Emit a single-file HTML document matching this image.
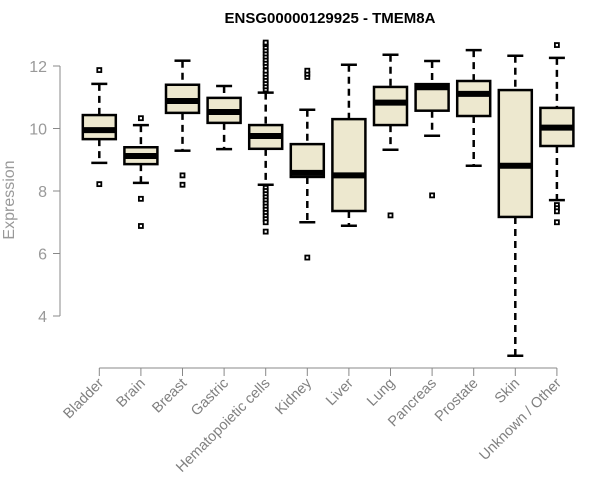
<!DOCTYPE html>
<html><head><meta charset="utf-8"><style>
body{margin:0;background:#fff}
svg{display:block;font-family:"Liberation Sans",Arial,sans-serif}
</style></head><body>
<svg id="chart" width="600" height="500">
<text x="330" y="23" text-anchor="middle" font-weight="bold" font-size="15">ENSG00000129925 - TMEM8A</text>
<text transform="translate(14,200) rotate(-90)" text-anchor="middle" font-size="16" fill="#999">Expression</text>
<g id="yaxis"></g>
<g id="xaxis"></g>
<g id="boxes"></g>
</svg>
<script>
const categories=["Bladder","Brain","Breast","Gastric","Hematopoietic cells","Kidney","Liver","Lung","Pancreas","Prostate","Skin","Unknown / Other"];
const q1=[9.66,8.86,10.5,10.18,9.35,8.45,7.36,10.11,10.57,10.4,7.17,9.44];
const medians=[9.95,9.12,10.88,10.53,9.76,8.58,8.5,10.83,11.32,11.11,8.81,10.03];
const q3=[10.43,9.4,11.4,10.98,10.11,9.5,10.3,11.33,11.42,11.52,11.23,10.66];
const whiskerLow=[8.9,8.26,9.29,9.34,8.2,7.0,6.89,9.32,9.77,8.81,2.73,7.71];
const whiskerHigh=[11.43,10.11,12.17,11.36,11.15,10.6,12.04,12.36,12.16,12.51,12.33,12.26];
const outliers=[[11.87,8.22],[10.33,7.75,6.88],[8.5,8.2],[],
[11.25,11.35,11.45,11.55,11.65,11.75,11.85,12.0,12.1,12.2,12.3,12.4,12.5,12.6,12.7,12.75,8.1,8.0,7.9,7.8,7.7,7.6,7.5,7.4,7.3,7.2,7.1,7.0,6.7],
[11.65,11.75,11.85,5.87],[],[7.22],[7.86],[],[],[12.67,7.55,7.45,7.35,7.0]];
const yTicks=[4,6,8,10,12];

const NS="http://www.w3.org/2000/svg";
function y(v){return 316-(v-4)*31.25;}
function x(i){return 99.3+i*41.6;}
function mk(parent,tag,attrs){const e=document.createElementNS(NS,tag);for(const k in attrs)e.setAttribute(k,attrs[k]);parent.appendChild(e);return e;}
const ya=document.getElementById('yaxis'),xa=document.getElementById('xaxis'),bx=document.getElementById('boxes');
mk(ya,'line',{x1:60,x2:60,y1:y(12),y2:y(4),stroke:'#888'});
yTicks.forEach(t=>{
  mk(ya,'line',{x1:53,x2:60,y1:y(t),y2:y(t),stroke:'#888'});
  const tx=mk(ya,'text',{x:47,y:y(t)+6,'text-anchor':'end','font-size':16,fill:'#999'});
  tx.textContent=t;
  
  
});
mk(xa,'line',{x1:x(0),x2:x(categories.length-1),y1:368,y2:368,stroke:'#888'});
categories.forEach((c,i)=>{
  mk(xa,'line',{x1:x(i),x2:x(i),y1:368,y2:376,stroke:'#888'});
  const t=mk(xa,'text',{transform:`translate(${x(i)+5},384) rotate(-45)`,'text-anchor':'end','font-size':14.5,fill:'#808080'});
  t.textContent=c;
  
  
});
categories.forEach((c,i)=>{
  const g=mk(bx,'g',{});
  
  
  const cx=x(i),hw=16.5,cw=8;
  mk(g,'line',{x1:cx,x2:cx,y1:y(whiskerHigh[i]),y2:y(q3[i]),stroke:'#000','stroke-width':2.5,'stroke-dasharray':'7,5'});
  mk(g,'line',{x1:cx,x2:cx,y1:y(q1[i]),y2:y(whiskerLow[i]),stroke:'#000','stroke-width':2.5,'stroke-dasharray':'7,5'});
  mk(g,'line',{x1:cx-cw,x2:cx+cw,y1:y(whiskerHigh[i]),y2:y(whiskerHigh[i]),stroke:'#000','stroke-width':2.5});
  mk(g,'line',{x1:cx-cw,x2:cx+cw,y1:y(whiskerLow[i]),y2:y(whiskerLow[i]),stroke:'#000','stroke-width':2.5});
  mk(g,'rect',{x:cx-hw,y:y(q3[i]),width:2*hw,height:y(q1[i])-y(q3[i]),fill:'#ede8cf',stroke:'#000','stroke-width':2.5});
  mk(g,'line',{x1:cx-hw,x2:cx+hw,y1:y(medians[i]),y2:y(medians[i]),stroke:'#000','stroke-width':6});
  outliers[i].forEach(o=>{
    const r=mk(g,'rect',{x:cx-2,y:y(o)-2,width:4,height:4,fill:'#fff',stroke:'#000','stroke-width':1.8});
    
    
  });
});
</script>
</body></html>
